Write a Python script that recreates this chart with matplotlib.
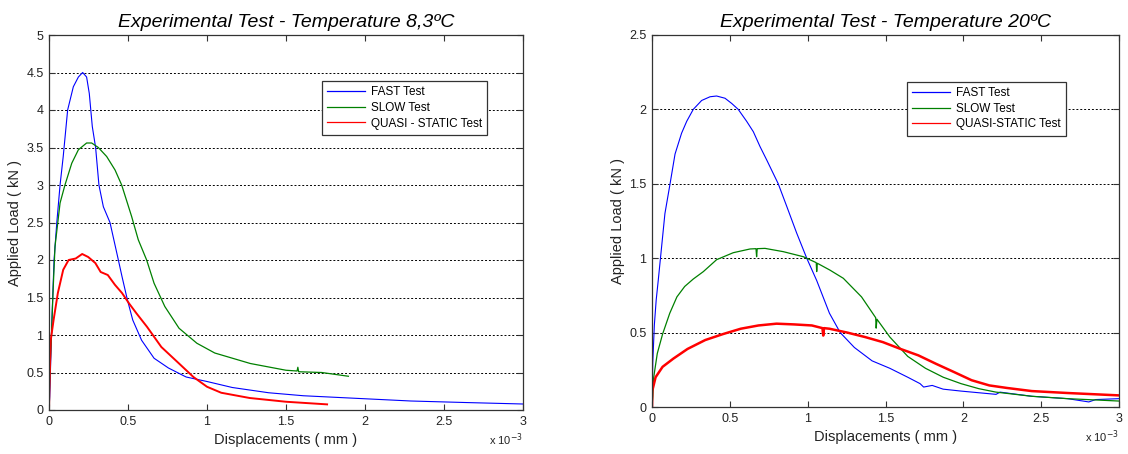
import matplotlib.pyplot as plt
from matplotlib.lines import Line2D

plt.rcParams['font.family'] = ['Liberation Sans', 'DejaVu Sans']

# displacements are in units of 1e-3 mm, loads in kN
# --- 8.3 C test ---
fast_83_x = [0, 0.0045, 0.011, 0.02, 0.032, 0.049, 0.07, 0.09, 0.118, 0.154, 0.186, 0.213, 0.238,
             0.255, 0.274, 0.295, 0.316, 0.344, 0.386, 0.439, 0.462, 0.496, 0.53, 0.586, 0.665,
             0.756, 0.868, 1.0, 1.16, 1.39, 1.61, 1.95, 2.29, 2.63, 3.0]
fast_83_y = [0, 0.18, 0.67, 1.3, 2.0, 2.49, 3.0, 3.38, 4.0, 4.31, 4.44, 4.5, 4.44,
             4.22, 3.78, 3.5, 3.0, 2.71, 2.5, 2.0, 1.78, 1.47, 1.2, 0.93, 0.69,
             0.56, 0.44, 0.38, 0.30, 0.23, 0.19, 0.155, 0.12, 0.10, 0.08]

slow_83_x = [0, 0.0045, 0.016, 0.026, 0.038, 0.07, 0.101, 0.144, 0.186, 0.238, 0.27, 0.312,
             0.365, 0.418, 0.46, 0.523, 0.565, 0.618, 0.665, 0.733, 0.823, 0.936, 1.049,
             1.274, 1.5, 1.57, 1.575, 1.58, 1.726, 1.895]
slow_83_y = [0, 0.44, 1.02, 1.6, 2.18, 2.76, 3.0, 3.29, 3.47, 3.56, 3.56, 3.5,
             3.38, 3.2, 3.0, 2.58, 2.27, 2.0, 1.69, 1.38, 1.09, 0.89, 0.76,
             0.62, 0.53, 0.52, 0.57, 0.51, 0.50, 0.45]

quasi_83_x = [0, 0.002, 0.011, 0.029, 0.056, 0.09, 0.124, 0.169, 0.21, 0.248, 0.293, 0.327,
              0.372, 0.417, 0.462, 0.507, 0.553, 0.62, 0.711, 0.823, 0.914, 1.0, 1.09, 1.27,
              1.5, 1.76]
quasi_83_y = [0, 0.22, 0.93, 1.2, 1.56, 1.87, 2.0, 2.02, 2.08, 2.04, 1.96, 1.84,
              1.8, 1.67, 1.56, 1.42, 1.29, 1.11, 0.84, 0.62, 0.44, 0.31, 0.23, 0.16,
              0.11, 0.075]

# --- 20 C test ---
fast_20_x = [0, 0.005, 0.015, 0.027, 0.04, 0.062, 0.083, 0.116, 0.148, 0.19, 0.223, 0.265,
             0.319, 0.373, 0.415, 0.469, 0.512, 0.554, 0.608, 0.651, 0.694, 0.737, 0.811,
             0.865, 0.929, 0.994, 1.058, 1.14, 1.209, 1.3, 1.414, 1.528, 1.643, 1.722, 1.745,
             1.8, 1.87, 1.985, 2.21, 2.236, 2.44, 2.67, 2.806, 2.85, 3.0]
fast_20_y = [0, 0.30, 0.55, 0.72, 0.85, 1.08, 1.30, 1.50, 1.70, 1.84, 1.92, 2.0,
             2.06, 2.085, 2.09, 2.075, 2.04, 2.0, 1.92, 1.85, 1.75, 1.66, 1.50,
             1.35, 1.17, 1.0, 0.85, 0.63, 0.50, 0.40, 0.31, 0.26, 0.20, 0.157, 0.134,
             0.145, 0.12, 0.107, 0.085, 0.10, 0.072, 0.056, 0.034, 0.05, 0.056]

slow_20_x = [0, 0.005, 0.011, 0.034, 0.068, 0.114, 0.16, 0.21, 0.265, 0.33, 0.415, 0.522,
             0.63, 0.668, 0.672, 0.676, 0.726, 0.843, 0.972, 1.055, 1.058, 1.062, 1.143,
             1.229, 1.346, 1.437, 1.44, 1.445, 1.528, 1.643, 1.757, 1.871, 1.985, 2.1, 2.21,
             2.44, 2.67, 3.0]
slow_20_y = [0, 0.07, 0.20, 0.36, 0.49, 0.63, 0.74, 0.81, 0.86, 0.91, 0.99, 1.037,
             1.062, 1.064, 1.01, 1.064, 1.066, 1.044, 1.01, 0.97, 0.91, 0.966, 0.92,
             0.865, 0.74, 0.60, 0.53, 0.59, 0.47, 0.34, 0.26, 0.20, 0.157, 0.123, 0.10,
             0.072, 0.056, 0.04]

quasi_20_x = [0, 0.002, 0.023, 0.068, 0.137, 0.228, 0.342, 0.456, 0.57, 0.684, 0.8, 0.913,
              1.027, 1.095, 1.1, 1.105, 1.14, 1.255, 1.369, 1.483, 1.597, 1.711, 1.825, 1.94,
              2.053, 2.167, 2.28, 2.44, 2.67, 3.0]
quasi_20_y = [0, 0.11, 0.20, 0.27, 0.325, 0.39, 0.45, 0.49, 0.526, 0.548, 0.56, 0.555,
              0.548, 0.53, 0.48, 0.53, 0.526, 0.50, 0.47, 0.436, 0.39, 0.347, 0.29, 0.235,
              0.18, 0.145, 0.128, 0.107, 0.094, 0.078]

x_ticks = [0, 0.5, 1, 1.5, 2, 2.5, 3]
x_labels = ['0', '0.5', '1', '1.5', '2', '2.5', '3']
y_ticks_83 = [0, 0.5, 1, 1.5, 2, 2.5, 3, 3.5, 4, 4.5, 5]
y_labels_83 = ['0', '0.5', '1', '1.5', '2', '2.5', '3', '3.5', '4', '4.5', '5']
y_ticks_20 = [0, 0.5, 1, 1.5, 2, 2.5]
y_labels_20 = ['0', '0.5', '1', '1.5', '2', '2.5']

fig = plt.figure(figsize=(11.28, 4.54), dpi=100)
ax1 = fig.add_axes([49/1128, 44/454, 474/1128, 375/454])
ax2 = fig.add_axes([652/1128, 47/454, 467/1128, 372/454])

blue, green, red = '#0000ff', '#008000', '#ff0000'
txt = '#222222'


def style(ax, yt, yl, ymax, title, legpos, labels):
    ax.set_xlim(0, 3)
    ax.set_ylim(0, ymax)
    ax.set_xticks(x_ticks)
    ax.set_xticklabels(x_labels)
    ax.set_yticks(yt)
    ax.set_yticklabels(yl)
    ax.tick_params(direction='in', top=True, right=True, length=4, width=0.8,
                   labelsize=9, colors='#333333', labelcolor=txt, pad=4)
    for s in ax.spines.values():
        s.set_color('#333333')
        s.set_linewidth(0.9)
    ax.yaxis.grid(True, color='k', linestyle=(0, (2, 2)), linewidth=0.7)
    ax.set_axisbelow(True)
    ax.set_title(title, fontsize=14, style='italic', pad=6)
    ax.set_xlabel('Displacements ( mm )', fontsize=10.5, color=txt, labelpad=4)
    ax.set_ylabel('Applied Load ( kN )', fontsize=10.5, color=txt, labelpad=3)
    ax.text(1.0, -0.058, r'x 10$^{-3}$', transform=ax.transAxes, ha='right', va='top',
            fontsize=8, color=txt)
    handles = [Line2D([], [], color=c, lw=0.9) for c in (blue, green, red)]
    leg = ax.legend(handles, labels, loc='upper left', bbox_to_anchor=legpos, borderaxespad=0,
                    fancybox=False, framealpha=1, edgecolor='#333333', fontsize=8.5,
                    handlelength=3.2, handletextpad=0.5, labelspacing=0.3, borderpad=0.45)
    leg.get_frame().set_linewidth(0.9)


ax1.plot(fast_83_x, fast_83_y, color=blue, lw=0.8)
ax1.plot(slow_83_x, slow_83_y, color=green, lw=0.9)
ax1.plot(quasi_83_x, quasi_83_y, color=red, lw=1.4)
style(ax1, y_ticks_83, y_labels_83, 5, 'Experimental Test - Temperature 8,3ºC', (0.576, 0.877),
      ['FAST Test', 'SLOW Test', 'QUASI - STATIC Test'])

ax2.plot(fast_20_x, fast_20_y, color=blue, lw=0.8)
ax2.plot(slow_20_x, slow_20_y, color=green, lw=0.9)
ax2.plot(quasi_20_x, quasi_20_y, color=red, lw=1.8)
style(ax2, y_ticks_20, y_labels_20, 2.5, 'Experimental Test - Temperature 20ºC', (0.546, 0.874),
      ['FAST Test', 'SLOW Test', 'QUASI-STATIC Test'])

fig.savefig('out.png', dpi=100)
